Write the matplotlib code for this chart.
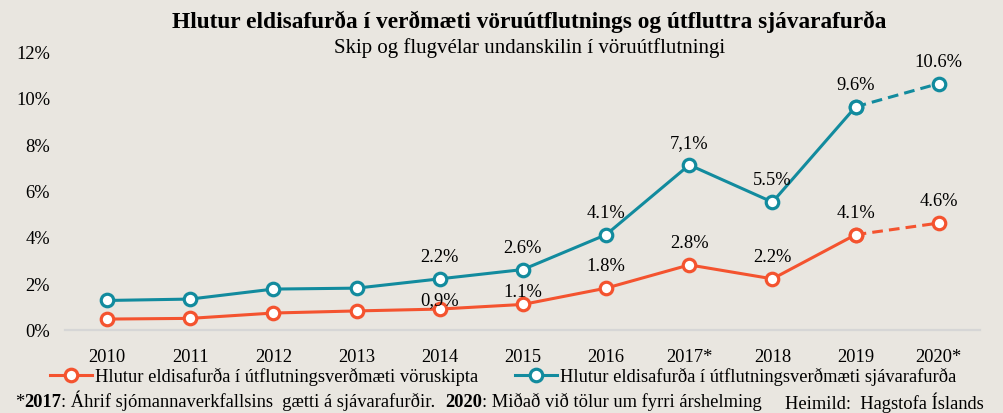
import numpy as np
import matplotlib.pyplot as plt

# data
years = ['2010', '2011', '2012', '2013', '2014', '2015', '2016', '2017*', '2018', '2019', '2020*']
sjavar = [1.27, 1.33, 1.76, 1.8, 2.2, 2.6, 4.1, 7.1, 5.5, 9.6, 10.6]
voru = [0.47, 0.5, 0.73, 0.82, 0.9, 1.1, 1.8, 2.8, 2.2, 4.1, 4.6]
sjavar_lbl = ['', '', '', '', '2.2%', '2.6%', '4.1%', '7,1%', '5.5%', '9.6%', '10.6%']
voru_lbl = ['', '', '', '', '0,9%', '1.1%', '1.8%', '2.8%', '2.2%', '4.1%', '4.6%']

name_voru = 'Hlutur eldisafurða í útflutningsverðmæti vöruskipta'
name_sjavar = 'Hlutur eldisafurða í útflutningsverðmæti sjávarafurða'

bg = '#E9E6E0'
teal = '#128B9E'
orange = '#F4532F'
fs = 13.3

plt.rcParams['font.family'] = ['Liberation Serif', 'DejaVu Serif']

fig = plt.figure(figsize=(10.04, 4.14), dpi=100, facecolor=bg)
W, H = 1004, 414
ax = fig.add_axes([65.4 / W, (H - 331) / H, 915 / W, 279 / H])
ax.set_facecolor(bg)

x = np.arange(len(years))
mk = dict(marker='o', markersize=9, markerfacecolor='white', markeredgewidth=2.3)

def draw(vals, col):
    n = len(vals)
    ax.plot(x[:n - 1], vals[:n - 1], color=col, lw=2.2, zorder=3, **mk, markeredgecolor=col)
    ax.plot(x[-2:], vals[-2:], color=col, lw=2.2, ls=(0, (3.5, 2)), zorder=2,
            **mk, markeredgecolor=col)

draw(np.array(voru), orange)
draw(np.array(sjavar), teal)

# data labels
voru_off = [16, 16, 16, 16, 7, 9, 16, 16, 16, 16, 16]
for i in range(len(years)):
    if sjavar_lbl[i]:
        ax.annotate(sjavar_lbl[i], (x[i], sjavar[i]), xytext=(0, 16), textcoords='offset points',
                    ha='center', va='center', fontsize=fs, zorder=5)
    if voru_lbl[i]:
        ax.annotate(voru_lbl[i], (x[i], voru[i]), xytext=(0, voru_off[i]), textcoords='offset points',
                    ha='center', va='center', fontsize=fs, zorder=5)

ax.set_xlim(-0.5, len(years) - 0.5)
ax.set_ylim(0, 12)
ax.set_yticks(np.arange(0, 13, 2))
ax.set_yticklabels([f'{v}%' for v in range(0, 13, 2)])
ax.set_xticks(x)
ax.set_xticklabels(years)
ax.tick_params(axis='both', length=0, labelsize=fs)
ax.tick_params(axis='y', pad=11)
ax.tick_params(axis='x', pad=13)
for s in ['top', 'right', 'left']:
    ax.spines[s].set_visible(False)
ax.spines['bottom'].set_color('#D6D6D6')
ax.spines['bottom'].set_linewidth(1.6)

# titles
fig.text(529 / W, 1 - 22 / H, 'Hlutur eldisafurða í verðmæti vöruútflutnings og útfluttra sjávarafurða',
         ha='center', va='center', fontsize=16.8, fontweight='bold')
fig.text(530 / W, 1 - 48 / H, 'Skip og flugvélar undanskilin í vöruútflutningi',
         ha='center', va='center', fontsize=15)

# legend
h1, = ax.plot([], [], color=orange, lw=2.2, **mk, markeredgecolor=orange)
h2, = ax.plot([], [], color=teal, lw=2.2, **mk, markeredgecolor=teal)
fig.legend([h1, h2], [name_voru, name_sjavar], ncol=2, loc='center',
           bbox_to_anchor=(503 / W, 1 - 377 / H), frameon=False, fontsize=fs,
           handlelength=2.3, handletextpad=0.15, columnspacing=2.0)

# footnote, years in bold
parts = [('2017', 'bold'), (': Áhrif sjómannaverkfallsins  gætti á sjávarafurðir.  ', 'normal'),
         ('2020', 'bold'), (': Miðað við tölur um fyrri árshelming', 'normal')]
last = fig.text(15 / W, 1 - 403 / H, '*', ha='left', va='center', fontsize=fs)
for txt, wt in parts:
    last = ax.annotate(txt, xy=(1, 0), xycoords=last, xytext=(0, 0), textcoords='offset points',
                       ha='left', va='bottom', fontsize=fs, fontweight=wt, annotation_clip=False)
fig.text(984 / W, 1 - 403 / H, 'Heimild:  Hagstofa Íslands', ha='right', va='center', fontsize=fs)

fig.savefig('out.png', dpi=100, facecolor=bg)
